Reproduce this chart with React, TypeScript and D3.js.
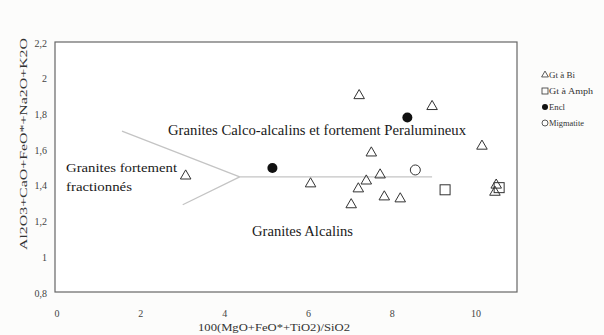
import React from "react";
import * as d3 from "d3";

const W = 604, H = 335;
const margin = { left: 55, right: 87, top: 42, bottom: 43 };

const xTicks = [0, 2, 4, 6, 8, 10];
const yTicks = [0.8, 1, 1.2, 1.4, 1.6, 1.8, 2, 2.2];

const gtBiX = [3.07, 7.21, 8.95, 10.14, 7.5, 6.05, 7.71, 7.38, 7.19, 7.02, 7.81, 8.19, 10.48, 10.45];
const gtBiY = [1.461, 1.911, 1.85, 1.628, 1.59, 1.417, 1.467, 1.433, 1.389, 1.3, 1.344, 1.333, 1.41, 1.37];
const gtAmphX = [9.26, 10.55];
const gtAmphY = [1.378, 1.39];
const enclX = [5.14, 8.36];
const enclY = [1.5, 1.783];
const migX = [8.55];
const migY = [1.489];

// discriminant lines: [x1,y1,x2,y2]
const boundaryLines = [
  [4.36, 1.45, 8.95, 1.45],
  [4.36, 1.45, 1.55, 1.706],
  [4.36, 1.45, 3.0, 1.294],
];

const legendLabels = ["Gt à Bi", "Gt à Amph", "Encl", "Migmatite"];
const legendWidths = [26, 44, 16, 35];

const fmt = (v: number) => String(v).replace(".", ",");

export default function App() {
  const x = d3.scaleLinear().domain([0, 11]).range([57, 518]);
  const y = d3.scaleLinear().domain([0.8, 2.2]).range([293, 43]);
  const font = "'Liberation Serif', 'Times New Roman', serif";
  const tri = d3.symbol().type(d3.symbolTriangle).size(48)();
  const ink = "#333";
  const adj = "spacingAndGlyphs";

  return (
    <svg width={W} height={H} style={{ position: "absolute", left: 0, top: 0, background: "#fff" }}>
      <rect x={0} y={0} width={W} height={H} fill="#fcfcfb" />
      <rect x={margin.left} y={margin.top} width={W - margin.left - margin.right} height={H - margin.top - margin.bottom}
        fill="#fff" stroke="#666" strokeWidth={1.2} />
      {yTicks.map((t) => (
        <text key={t} x={47} y={y(t)} dy="0.35em" textAnchor="end" fontFamily={font} fontSize={10} fill="#444">{fmt(t)}</text>
      ))}
      {xTicks.map((t) => (
        <text key={t} x={x(t)} y={317} textAnchor="middle" fontFamily={font} fontSize={10} fill="#444">{fmt(t)}</text>
      ))}
      <text x={198} y={331} textLength={152} lengthAdjust={adj} fontFamily={font} fontSize={10} fill="#333">100(MgO+FeO*+TiO2)/SiO2</text>
      <text transform={`translate(27,250) rotate(-90)`} textLength={212} lengthAdjust={adj} fontFamily={font} fontSize={10} fill="#333">Al2O3+CaO+FeO*+Na2O+K2O</text>

      {boundaryLines.map((l, i) => (
        <line key={i} x1={x(l[0])} y1={y(l[1])} x2={x(l[2])} y2={y(l[3])} stroke="#c4c4c4" strokeWidth={1.3} />
      ))}

      <text x={168} y={135} textLength={298} lengthAdjust={adj} fontFamily={font} fontSize={14} fill="#1a1a1a">Granites Calco-alcalins et fortement Peralumineux</text>
      <text x={66} y={172} textLength={111} lengthAdjust={adj} fontFamily={font} fontSize={13} fill="#1a1a1a">Granites fortement</text>
      <text x={66} y={191} textLength={66} lengthAdjust={adj} fontFamily={font} fontSize={13} fill="#1a1a1a">fractionnés</text>
      <text x={252} y={236} textLength={101} lengthAdjust={adj} fontFamily={font} fontSize={14} fill="#1a1a1a">Granites Alcalins</text>

      {gtBiX.map((v, i) => (
        <path key={"t" + i} d={tri} transform={`translate(${x(v)},${y(gtBiY[i]) + 1})`} fill="none" stroke={ink} strokeWidth={1} />
      ))}
      {gtAmphX.map((v, i) => (
        <rect key={"s" + i} x={x(v) - 5} y={y(gtAmphY[i]) - 5} width={10} height={10} fill="none" stroke={ink} strokeWidth={1} />
      ))}
      {enclX.map((v, i) => (
        <circle key={"e" + i} cx={x(v)} cy={y(enclY[i])} r={5} fill="#111" />
      ))}
      {migX.map((v, i) => (
        <circle key={"m" + i} cx={x(v)} cy={y(migY[i])} r={5} fill="none" stroke={ink} strokeWidth={1} />
      ))}

      <g fontFamily={font} fontSize={8} fill="#333">
        {legendLabels.map((lab, i) => {
          const ly = 75 + i * 16;
          const sx = 545;
          let sym;
          if (i === 0) sym = <path d={d3.symbol().type(d3.symbolTriangle).size(20)()!} transform={`translate(${sx},${ly})`} fill="none" stroke={ink} strokeWidth={0.8} />;
          else if (i === 1) sym = <rect x={sx - 3} y={ly - 3} width={6} height={6} fill="none" stroke={ink} strokeWidth={0.8} />;
          else if (i === 2) sym = <circle cx={sx} cy={ly} r={3} fill="#111" />;
          else sym = <circle cx={sx} cy={ly} r={3} fill="none" stroke={ink} strokeWidth={0.8} />;
          return (
            <g key={lab}>
              {sym}
              <text x={sx + 4} y={ly} dy="0.35em" textLength={legendWidths[i]} lengthAdjust={adj}>{lab}</text>
            </g>
          );
        })}
      </g>
    </svg>
  );
}
